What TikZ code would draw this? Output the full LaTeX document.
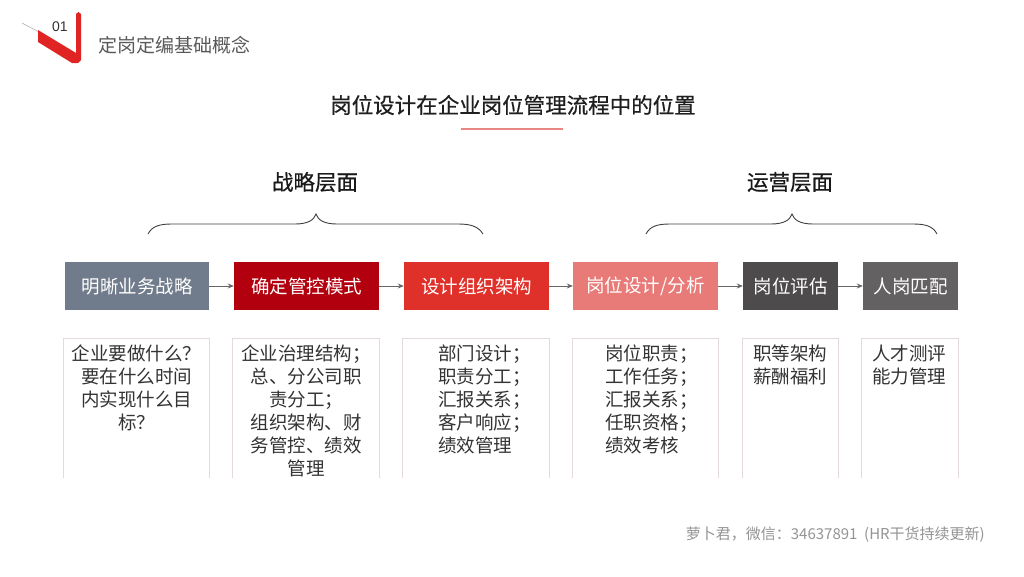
\documentclass[tikz,border=0pt]{standalone}
\usepackage{fontspec}
\setmainfont{Noto Sans CJK SC}
\newfontfamily\semibold[FakeBold=0.6]{Noto Sans CJK SC}
\newfontfamily\numfont{Liberation Sans}
\usetikzlibrary{arrows.meta}
\definecolor{cgrayblue}{HTML}{707B8B}
\definecolor{cdarkred}{HTML}{B3000F}
\definecolor{cred}{HTML}{E0302A}
\definecolor{clightred}{HTML}{E87A78}
\definecolor{cdarkgray}{HTML}{4D4B4C}
\definecolor{cmidgray}{HTML}{636162}
\definecolor{ctext}{HTML}{333333}
\definecolor{cline}{HTML}{E4DADB}
\definecolor{clogo}{HTML}{E02424}
\tikzset{
  stagebox/.style={minimum height=48pt, inner sep=0pt, text=white, font=\fontsize{18.5}{22}\selectfont},
  descbox/.style={minimum height=140pt, inner sep=0pt, anchor=north},
  desctext/.style={anchor=north, inner sep=0pt, text=ctext, font=\fontsize{18.5}{23}\selectfont},
  arr/.style={draw=gray!80!black, line width=0.8pt, -{Stealth[length=6pt,width=5pt]}},
  brace/.style={draw=black!75, line width=0.9pt},
}
\begin{document}
\begin{tikzpicture}[x=1pt,y=-1pt]
\useasboundingbox (0,0) rectangle (1024,576);
\fill[white] (0,0) rectangle (1024,576);

% header logo
\draw[gray!60, line width=0.6pt] (22,23) -- (39,32);
\fill[clogo] (38,30) -- (76,53) -- (76,14) -- (78.5,12) -- (81,14) -- (81,60) -- (78,63) -- (72,63) -- (38,42) -- cycle;
\node[anchor=center, inner sep=0pt, text=ctext, font=\fontsize{14}{16}\numfont] (num) at (60,27) {01};
\node[anchor=west, inner sep=0pt, text=black!65, font=\fontsize{19}{22}\selectfont] (head) at (98,45) {定岗定编基础概念};

% title
\node[inner sep=0pt, text=black!88, font=\fontsize{21.5}{25}\semibold] (title) at (513,105) {岗位设计在企业岗位管理流程中的位置};
\draw[draw=clightred!90, line width=1.5pt] (461,129) -- (563,129);

% layer headings
\node[inner sep=0pt, text=black!90, font=\fontsize{21.5}{25}\semibold] (l1) at (315,182) {战略层面};
\node[inner sep=0pt, text=black!90, font=\fontsize{21.5}{25}\semibold] (l2) at (790,182) {运营层面};

% braces
\coordinate (br1l) at (148,234);
\coordinate (br1t) at (316,214);
\coordinate (br1r) at (483,234);
\draw[brace] (br1l) .. controls (152,226) and (160,224) .. (172,224) -- (295,224) .. controls (308,224) and (314,220) .. (br1t)
  .. controls (318,220) and (324,224) .. (337,224) -- (458,224) .. controls (470,224) and (478,226) .. (br1r);
\coordinate (br2l) at (646,234);
\coordinate (br2t) at (792,214);
\coordinate (br2r) at (937,234);
\draw[brace] (br2l) .. controls (650,226) and (658,224) .. (670,224) -- (771,224) .. controls (784,224) and (790,220) .. (br2t)
  .. controls (794,220) and (800,224) .. (813,224) -- (913,224) .. controls (925,224) and (933,226) .. (br2r);

% stage boxes
\node[stagebox, fill=cgrayblue, minimum width=144pt] (b1) at (137,286) {明晰业务战略};
\node[stagebox, fill=cdarkred, minimum width=145pt] (b2) at (306.5,286) {确定管控模式};
\node[stagebox, fill=cred, minimum width=145pt] (b3) at (476.5,286) {设计组织架构};
\node[stagebox, fill=clightred, minimum width=145pt] (b4) at (645.5,286) {岗位设计/分析};
\node[stagebox, fill=cdarkgray, minimum width=95pt] (b5) at (790.5,286) {岗位评估};
\node[stagebox, fill=cmidgray, minimum width=95pt] (b6) at (910.5,286) {人岗匹配};

\draw[arr] (b1.east) -- (b2.west);
\draw[arr] (b2.east) -- (b3.west);
\draw[arr] (b3.east) -- (b4.west);
\draw[arr] (b4.east) -- (b5.west);
\draw[arr] (b5.east) -- (b6.west);

% description boxes
\foreach \n/\cx/\w in {1/136.5/145, 2/306/146, 3/476/146, 4/645.5/145, 5/790.5/95, 6/910/96}{
  \node[descbox, minimum width=\w pt] (d\n) at (\cx,338) {};
  \draw[cline, line width=0.8pt] (d\n.south west) -- (d\n.north west) -- (d\n.north east) -- (d\n.south east);
}

\node[desctext, align=center, text width=145pt] (t1) at (136.5,345) {企业要做什么？\\要在什么时间\\内实现什么目\\标？};
\node[desctext, align=center, text width=145pt] (t2) at (306,345) {企业治理结构；\\总、分公司职\\责分工；\\组织架构、财\\务管控、绩效\\管理};
\node[desctext, anchor=north west, align=left] (t3) at (438,345) {部门设计；\\职责分工；\\汇报关系；\\客户响应；\\绩效管理};
\node[desctext, anchor=north west, align=left] (t4) at (605,345) {岗位职责；\\工作任务；\\汇报关系；\\任职资格；\\绩效考核};
\node[desctext, anchor=north west, align=left] (t5) at (753,345) {职等架构\\薪酬福利};
\node[desctext, anchor=north west, align=left] (t6) at (872,345) {人才测评\\能力管理};

% footer
\node[anchor=east, inner sep=0pt, text=black!42, font=\fontsize{15}{18}\selectfont] (foot) at (985,535) {萝卜君，微信：34637891\ \ (HR干货持续更新)};
\end{tikzpicture}
\end{document}
